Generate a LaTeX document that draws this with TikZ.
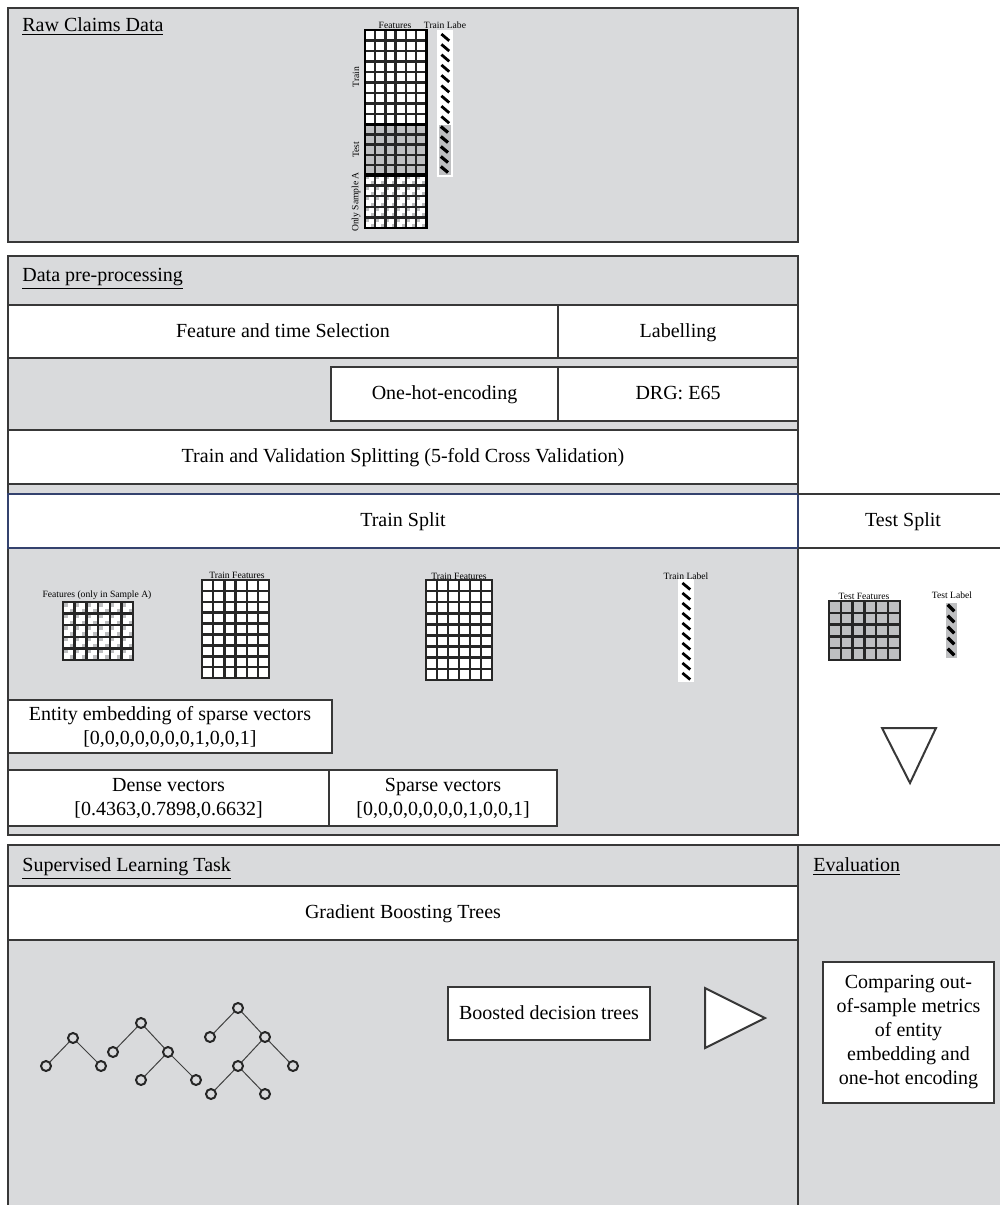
\documentclass[tikz,border=0pt]{standalone}
\usepackage{fontspec}
\setmainfont{Liberation Serif}
\usepackage{tikz}
\usetikzlibrary{positioning,fit,calc}

\definecolor{panelgray}{HTML}{D9DADC}
\definecolor{cellgray}{HTML}{BEBFC1}
\definecolor{rulegray}{HTML}{383838}
\definecolor{splitblue}{HTML}{34426E}

\newcommand{\cellgrid}[7]{%
  \foreach \ci in {1,...,#3}{%
    \foreach \cj in {1,...,#4}{%
      \path[#7] ({#1+(\ci-1)*#5},{#2+(\cj-1)*#6}) rectangle ++(#5,#6);
    }%
  }%
}

\begin{document}
\begin{tikzpicture}[x=0.5pt,y=-0.5pt]
    \tikzset{
        panel/.style={
            draw=rulegray,
            fill=panelgray,
            line width=1pt,
            inner sep=0pt
        }
    }
    \tikzset{
        stepbox/.style={
            draw=rulegray,
            fill=white,
            line width=1pt,
            inner sep=0pt
        }
    }
    \tikzset{
        boxtext/.style={
            align=center,
            inner sep=0pt,
            font=\fontsize{10}{12}\selectfont
        }
    }
    \tikzset{
        oneline/.style={
            boxtext,
            text height=7pt,
            text depth=1.5pt
        }
    }
    \tikzset{
        title/.style={
            anchor=base west,
            inner sep=0pt,
            font=\fontsize{10}{12}\selectfont
        }
    }
    \tikzset{
        tiny/.style={
            inner sep=0.5pt,
            font=\fontsize{4.8}{5.5}\selectfont
        }
    }
    \tikzset{
        plaincell/.style={draw=black!85, fill=white, line width=1.25pt},
        testcell/.style={draw=black!85, fill=cellgray, line width=1.25pt},
        sampcell/.style={
            draw=black!85, fill=white, line width=1.25pt,
            path picture={
                \fill[cellgray] (path picture bounding box.north west) rectangle
                    ($(path picture bounding box.north west)!0.4!(path picture bounding box.south east)$);
                \fill[cellgray] (path picture bounding box.south east) rectangle
                    ($(path picture bounding box.south east)!0.4!(path picture bounding box.north west)$);
            }
        },
        labcell/.style={
            fill=white,
            path picture={
                \draw[line width=1.4pt, black]
                    ($(path picture bounding box.north west)!0.2!(path picture bounding box.south east)$) --
                    ($(path picture bounding box.north west)!0.85!(path picture bounding box.south east)$);
            }
        },
        tlabcell/.style={
            fill=cellgray,
            path picture={
                \draw[line width=1.6pt, black]
                    ($(path picture bounding box.north west)!0.15!(path picture bounding box.south east)$) --
                    ($(path picture bounding box.north west)!0.75!(path picture bounding box.south east)$);
            }
        }
    }
    \tikzset{
        tnode/.style={
            circle,
            draw=black!85,
            fill=panelgray,
            line width=1pt,
            minimum size=5pt,
            inner sep=0pt
        }
    }
    \tikzset{
        tedge/.style={
            black!75,
            line width=0.5pt
        }
    }
    \tikzset{
        tri/.style={
            draw=rulegray,
            fill=white,
            line width=1pt,
            line join=miter
        }
    }

    \useasboundingbox (0,0) rectangle (1000,1205);
    \clip (0,0) rectangle (1000,1205);

    % raw data
    \node[panel, fit={(8,8)(798,242)}] (raw) {};
    \node[title] (rawT) at (22,31) {\underline{Raw Claims Data}};

    \cellgrid{365}{30}{6}{9}{10.2}{10.5}{plaincell}
    \cellgrid{365}{124.5}{6}{5}{10.2}{10.1}{testcell}
    \cellgrid{365}{175}{6}{5}{10.2}{10.6}{sampcell}
    \draw[line width=1.8pt] (365,124.5) -- (426.2,124.5);
    \draw[line width=1.8pt] (365,175) -- (426.2,175);
    \draw[line width=1.4pt] (365,30) rectangle (426.2,228);

    \fill[white] (437,30) rectangle (453,177);
    \cellgrid{439}{32}{1}{9}{12}{10.3}{labcell}
    \cellgrid{439}{125}{1}{5}{12}{10}{tlabcell}

    \node[tiny] (rawF) at (395,25) {Features};
    \node[tiny] (rawL) at (445,25) {Train Labe};
    \node[tiny, rotate=90] (rawTr) at (356,77) {Train};
    \node[tiny, rotate=90] (rawTe) at (356,150) {Test};
    \node[tiny, rotate=90] (rawA) at (356,202) {Only Sample A};

    % pre-processing
    \node[panel, fit={(8,256)(798,494)}] (pre) {};
    \node[title] (preT) at (22,281) {\underline{Data pre-processing}};
    \node[stepbox, fit={(8,305)(558,358)}] (feat) {};
    \node[oneline] (featTx) at (feat) {Feature and time Selection};
    \node[stepbox, fit={(558,305)(798,358)}] (lab) {};
    \node[oneline] (labTx) at (lab) {Labelling};
    \node[stepbox, fit={(331,367)(558,421)}] (ohe) {};
    \node[oneline] (oheTx) at (ohe) {One-hot-encoding};
    \node[stepbox, fit={(558,367)(798,421)}] (drg) {};
    \node[oneline] (drgTx) at (drg) {DRG: E65};
    \node[stepbox, fit={(8,430)(798,484)}] (tvs) {};
    \node[oneline] (tvsTx) at (tvs) {Train and Validation Splitting (5-fold Cross Validation)};

    % splits
    \node[panel, fit={(8,548)(798,835)}] (trp) {};
    \node[stepbox, draw=splitblue, fit={(8,494)(798,548)}] (trs) {};
    \node[oneline] (trsTx) at (trs) {Train Split};
    \draw[rulegray, line width=1pt] (798,494) -- (1000,494);
    \draw[rulegray, line width=1pt] (798,548) -- (1000,548);
    \node[oneline] (tesTx) at (903,521) {Test Split};

    \cellgrid{63}{602}{6}{5}{11.7}{11.6}{sampcell}
    \cellgrid{202}{580}{6}{9}{11.2}{10.9}{plaincell}
    \cellgrid{426}{580}{6}{9}{11}{11.1}{plaincell}
    \fill[white] (678,579) rectangle (694,682);
    \cellgrid{680}{581}{1}{10}{12}{10}{labcell}
    \cellgrid{829}{601}{6}{5}{11.8}{11.8}{testcell}
    \cellgrid{946}{603}{1}{5}{11}{11}{tlabcell}

    \node[tiny] (spA) at (97,595) {Features (only in Sample A)};
    \node[tiny] (trF1) at (237,575) {Train Features};
    \node[tiny] (trF2) at (459,576) {Train Features};
    \node[tiny] (trL) at (686,576) {Train Label};
    \node[tiny] (teF) at (864,596) {Test Features};
    \node[tiny] (teL) at (952,595) {Test Label};

    \draw[tri] (882,728) -- (936,728) -- (910,783) -- cycle;

    \node[stepbox, fit={(8,700)(332,753)}] (ent) {};
    \node[boxtext] (entTx) at (ent) {Entity embedding of sparse vectors\\{}[0,0,0,0,0,0,0,1,0,0,1]};
    \node[stepbox, fit={(8,770)(329,826)}] (dense) {};
    \node[boxtext] (denseTx) at (dense) {Dense vectors\\{}[0.4363,0.7898,0.6632]};
    \node[stepbox, fit={(329,770)(557,826)}] (sparse) {};
    \node[boxtext] (sparseTx) at (sparse) {Sparse vectors\\{}[0,0,0,0,0,0,0,1,0,0,1]};

    % learning and evaluation
    \node[panel, fit={(8,845)(798,1215)}] (sup) {};
    \node[title] (supT) at (22,871) {\underline{Supervised Learning Task}};
    \node[panel, fit={(798,845)(1004,1215)}] (eval) {};
    \node[title] (evalT) at (813,871) {\underline{Evaluation}};
    \node[stepbox, fit={(8,886)(798,940)}] (gbt) {};
    \node[oneline] (gbtTx) at (gbt) {Gradient Boosting Trees};
    \node[stepbox, fit={(448,987)(650,1040)}] (bdt) {};
    \node[oneline] (bdtTx) at (bdt) {Boosted decision trees};
    \draw[tri] (705,988) -- (765,1018) -- (705,1048) -- cycle;
    \node[stepbox, fit={(823,962)(994,1103)}] (cmp) {};
    \node[boxtext] (cmpTx) at (cmp) {Comparing out-\\of-sample metrics\\of entity\\embedding and\\one-hot encoding};

    \node[tnode] (t1r) at (73,1038) {};
    \node[tnode] (t1a) at (46,1066) {};
    \node[tnode] (t1b) at (101,1066) {};
    \node[tnode] (t2r) at (141,1023) {};
    \node[tnode] (t2a) at (113,1052) {};
    \node[tnode] (t2b) at (168,1052) {};
    \node[tnode] (t2c) at (141,1080) {};
    \node[tnode] (t2d) at (196,1080) {};
    \node[tnode] (t3r) at (238,1008) {};
    \node[tnode] (t3a) at (210,1037) {};
    \node[tnode] (t3b) at (265,1037) {};
    \node[tnode] (t3c) at (238,1066) {};
    \node[tnode] (t3d) at (293,1066) {};
    \node[tnode] (t3e) at (211,1094) {};
    \node[tnode] (t3f) at (265,1094) {};

    \draw[tedge] (t1r) -- (t1a);
    \draw[tedge] (t1r) -- (t1b);
    \draw[tedge] (t2r) -- (t2a);
    \draw[tedge] (t2r) -- (t2b);
    \draw[tedge] (t2b) -- (t2c);
    \draw[tedge] (t2b) -- (t2d);
    \draw[tedge] (t3r) -- (t3a);
    \draw[tedge] (t3r) -- (t3b);
    \draw[tedge] (t3b) -- (t3c);
    \draw[tedge] (t3b) -- (t3d);
    \draw[tedge] (t3c) -- (t3e);
    \draw[tedge] (t3c) -- (t3f);
\end{tikzpicture}
\end{document}
